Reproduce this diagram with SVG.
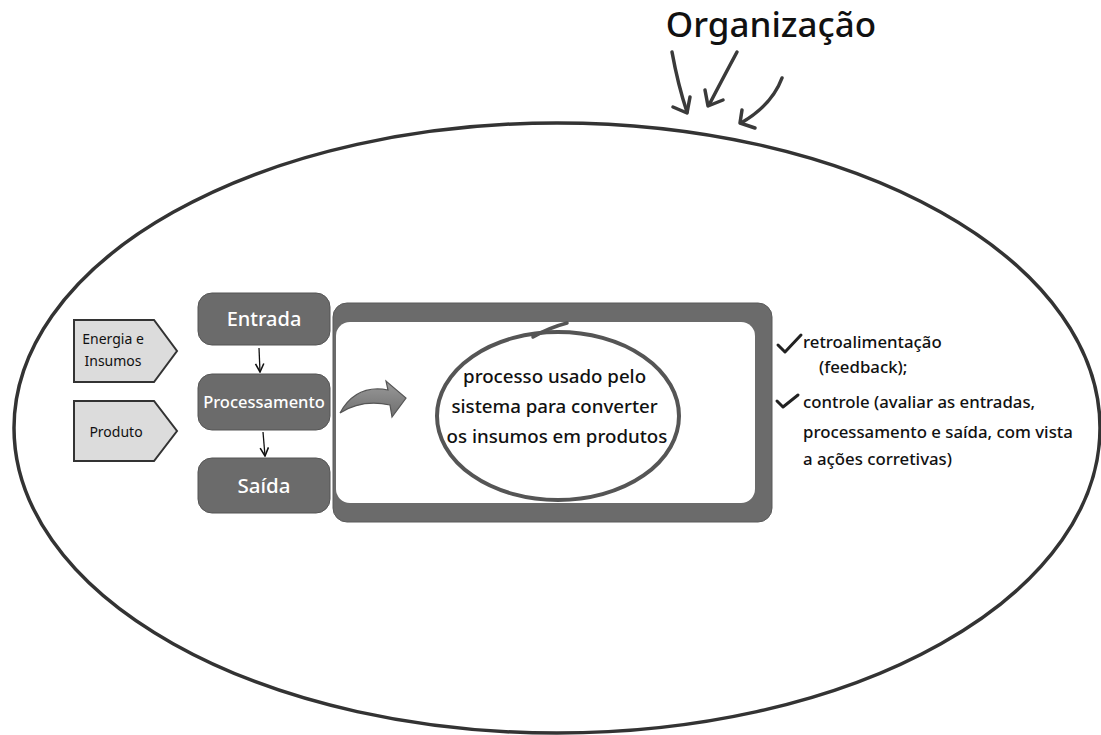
<svg xmlns="http://www.w3.org/2000/svg" width="1101" height="735" viewBox="0 0 1101 735">
<style>
.sans{font-family:"Noto Sans","Liberation Sans",sans-serif}
.box{fill:#6b6b6b;stroke:#555;stroke-width:1}
.boxtxt{fill:#fff;font-family:"Noto Sans","Liberation Sans",sans-serif;text-anchor:middle;font-weight:500}
.pent{fill:#dcdcdc;stroke:#333;stroke-width:2}
.pentxt{fill:#111;font-family:"Noto Sans","Liberation Sans",sans-serif;font-size:14px;text-anchor:middle}
.hand{fill:none;stroke:#3a3a3a;stroke-width:3.5;stroke-linecap:round;stroke-linejoin:round}
.thin{fill:none;stroke:#111;stroke-width:1.3}
.check{fill:none;stroke:#222;stroke-width:3;stroke-linecap:round;stroke-linejoin:round}
.rt{fill:#111;font-family:"Noto Sans","Liberation Sans",sans-serif;font-size:16.8px;font-weight:500}
</style>
<defs>
<marker id="ah" viewBox="0 0 10 10" refX="9" refY="5" markerWidth="8" markerHeight="8" orient="auto">
<path d="M1,1 L9,5 L1,9" fill="none" stroke="#111" stroke-width="1.5"/>
</marker>
<linearGradient id="ag" x1="0" y1="0" x2="0" y2="1">
<stop offset="0" stop-color="#9a9a9a"/><stop offset="1" stop-color="#6e6e6e"/>
</linearGradient>
</defs>
<rect width="1101" height="735" fill="#fff"/>

<g id="organizacao">
<ellipse cx="557" cy="428" rx="543" ry="305" fill="none" stroke="#333" stroke-width="3.5"/>
<text x="771" y="37" class="sans" font-size="35" font-weight="500" text-anchor="middle" fill="#111">Organização</text>
</g>

<g id="org-arrows">
<path class="hand" d="M672,52 Q678,85 687,112"/>
<path class="hand" d="M673,107 L687,113 L690,97"/>
<path class="hand" d="M737,52 Q722,80 709,105"/>
<path class="hand" d="M705,90 L708,106 L723,100"/>
<path class="hand" d="M782,78 Q772,105 741,123"/>
<path class="hand" d="M742,110 L740,123 L755,128"/>
</g>

<g id="energia">
<polygon class="pent" points="74,320 154,320 177,351 154,382 74,382"/>
<text class="pentxt" x="113" y="344">Energia e</text>
<text class="pentxt" x="113" y="366">Insumos</text>
</g>
<g id="produto">
<polygon class="pent" points="74,401 154,401 177,431 154,461 74,461"/>
<text class="pentxt" x="116" y="437" font-size="15.5">Produto</text>
</g>

<g id="entrada">
<rect class="box" x="198" y="293" width="132" height="52" rx="14"/>
<text class="boxtxt" x="264" y="326" font-size="20">Entrada</text>
</g>
<g id="processamento">
<rect class="box" x="198" y="374" width="132" height="56" rx="14"/>
<text class="boxtxt" x="264" y="408" font-size="16.5">Processamento</text>
</g>
<g id="saida">
<rect class="box" x="198" y="458" width="132" height="55" rx="14"/>
<text class="boxtxt" x="264" y="493" font-size="20.5">Saída</text>
</g>

<g id="connectors">
<line class="thin" x1="259" y1="348" x2="260" y2="372" marker-end="url(#ah)"/>
<line class="thin" x1="263" y1="432" x2="265" y2="456" marker-end="url(#ah)"/>
</g>

<g id="processo">
<rect x="333" y="303" width="439" height="219" rx="14" fill="#6b6b6b" stroke="#5a5a5a" stroke-width="1"/>
<rect x="336" y="322" width="419" height="181" rx="14" fill="#fff"/>
<path d="M340,413 Q356,384 388,390 L386,381 L406,398 L392,417 L390,405 Q362,399 340,413 Z" fill="url(#ag)" stroke="#555" stroke-width="1.2"/>
<ellipse cx="558" cy="416" rx="121" ry="84" fill="none" stroke="#555" stroke-width="4"/>
<path d="M533,337 Q548,328 567,323" fill="none" stroke="#555" stroke-width="3.5" stroke-linecap="round"/>
<text class="sans" font-size="18.7" font-weight="500" text-anchor="middle" fill="#111">
<tspan x="557" y="383">processo usado pelo</tspan>
<tspan x="557" y="413">sistema para converter</tspan>
<tspan x="557" y="443">os insumos em produtos</tspan>
</text>
</g>

<g id="retro">
<path class="check" d="M778,345 L785,352 L801,335"/>
<text class="rt" x="803" y="348">retroalimentação</text>
<text class="rt" x="819" y="373">(feedback);</text>
</g>
<g id="controle">
<path class="check" d="M777,401 L783,407 L798,395"/>
<text class="rt" x="803" y="408">controle (avaliar as entradas,</text>
<text class="rt" x="803" y="438">processamento e saída, com vista</text>
<text class="rt" x="803" y="465">a ações corretivas)</text>
</g>
</svg>
